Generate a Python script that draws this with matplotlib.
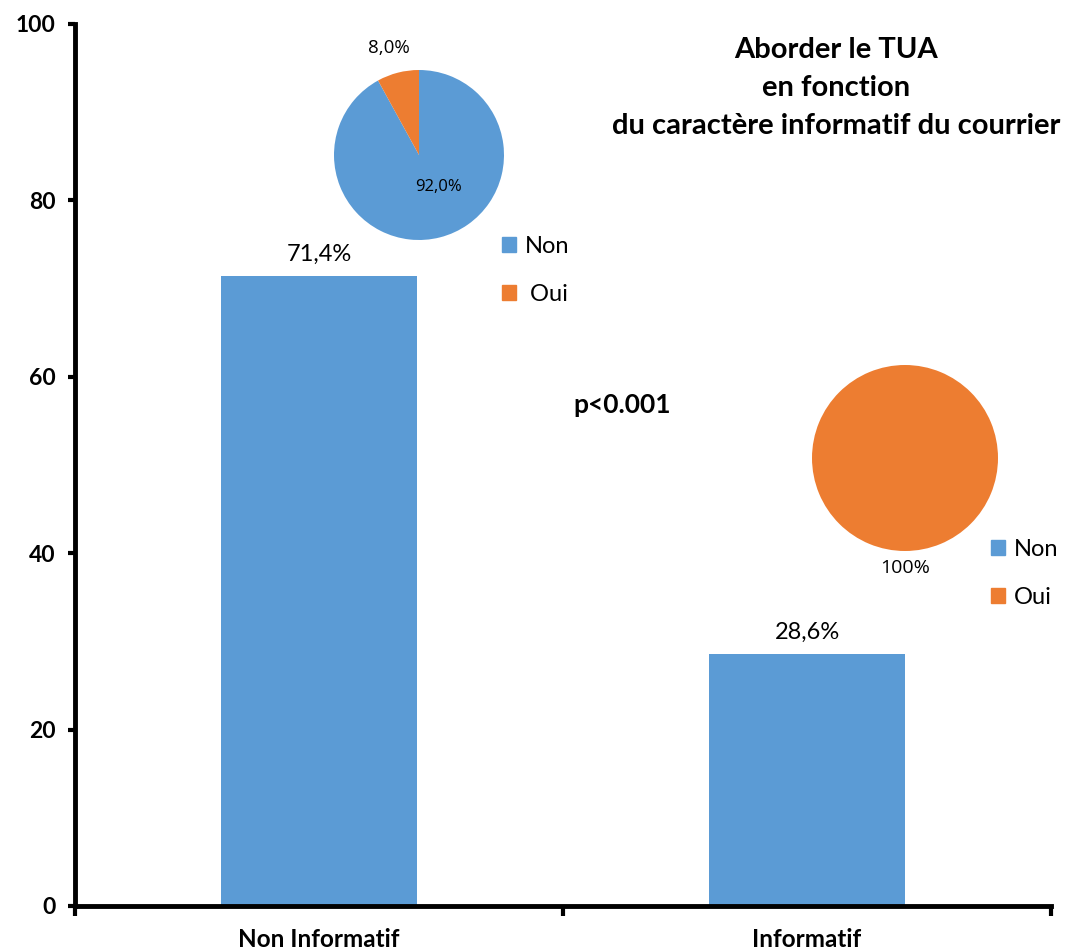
import numpy as np
import matplotlib
matplotlib.use('Agg')
import matplotlib.pyplot as plt
from matplotlib.patches import Patch

plt.rcParams['font.family'] = ['Lato', 'DejaVu Sans']

# donnees
categories = ['Non Informatif', 'Informatif']
pourcentages = [71.4, 28.6]
pie_labels = ['Non', 'Oui']
pie_non_info = [92.0, 8.0]
pie_info = [0.0, 100.0]
titre = 'Aborder le TUA\nen fonction\ndu caractère informatif du courrier'
p_texte = 'p<0.001'

bleu = '#5B9BD5'
orange = '#ED7D31'

W, H = 1069, 951
fig = plt.figure(figsize=(W / 100, H / 100), dpi=100)

def fx(px):
    return px / W

def fy(py):
    return 1 - py / H

ax = fig.add_axes([fx(75), fy(906), fx(1051) - fx(75), fy(24) - fy(906)])
x = np.arange(len(categories))
bars = ax.bar(x, pourcentages, width=0.4, color=bleu, zorder=2)
ax.bar_label(bars, labels=[('%.1f%%' % v).replace('.', ',') for v in pourcentages],
             padding=8, fontsize=17)
ax.set_xlim(-0.5, 1.5)
ax.set_ylim(0, 100)
ax.set_yticks(np.arange(0, 101, 20))
ax.set_xticks([-0.5, 0.5, 1.5])
ax.set_xticklabels([])
ax.set_xticks(x, minor=True)
ax.set_xticklabels(categories, minor=True, fontsize=17.5, fontweight='bold')
ax.tick_params(axis='x', which='minor', length=0, pad=16)
ax.tick_params(axis='x', which='major', length=7, width=3, direction='out')
ax.tick_params(axis='y', length=5, width=3, pad=9, labelsize=16.5)
for lab in ax.get_yticklabels():
    lab.set_fontweight('bold')
for s in ['top', 'right']:
    ax.spines[s].set_visible(False)
for s in ['left', 'bottom']:
    ax.spines[s].set_linewidth(3.5)

# camembert 1
r1 = 85
pa = fig.add_axes([fx(419 - r1), fy(155 + r1), fx(2 * r1), 2 * r1 / H])
pa.pie(pie_non_info, colors=[bleu, orange], startangle=90, counterclock=False,
       radius=1)
pa.set_xlim(-1, 1)
pa.set_ylim(-1, 1)
pa.text(0.23, -0.38, ('%.1f%%' % pie_non_info[0]).replace('.', ','), ha='center', va='center', fontsize=12, family='Open Sans')
pa.text(-0.35, 1.26, ('%.1f%%' % pie_non_info[1]).replace('.', ','), ha='center', va='center', fontsize=13.5, family='Open Sans')

# camembert 2
r2 = 93
pb = fig.add_axes([fx(905 - r2), fy(458 + r2), fx(2 * r2), 2 * r2 / H])
pb.pie(pie_info, colors=[bleu, orange], startangle=90, counterclock=False, radius=1)
pb.set_xlim(-1, 1)
pb.set_ylim(-1, 1)
pb.text(0, -1.18, '%d%%' % pie_info[1], ha='center', va='center', fontsize=14, family='Open Sans')

handles = [Patch(color=bleu), Patch(color=orange)]
fig.legend(handles, [pie_labels[0], ' ' + pie_labels[1]], loc='upper left',
           bbox_to_anchor=(fx(502), fy(236)), frameon=False, fontsize=17,
           handlelength=0.6, handleheight=0.6, handletextpad=0.35,
           labelspacing=1.15, borderpad=0, borderaxespad=0)
fig.legend(handles, pie_labels, loc='upper left',
           bbox_to_anchor=(fx(991), fy(539)), frameon=False, fontsize=17,
           handlelength=0.6, handleheight=0.6, handletextpad=0.35,
           labelspacing=1.15, borderpad=0, borderaxespad=0)

fig.text(fx(836), fy(88), titre, ha='center', va='center', fontsize=21,
         fontweight='bold', linespacing=1.55)
fig.text(fx(622), fy(405), p_texte, ha='center', va='center', fontsize=19,
         fontweight='bold')

fig.savefig('out.png', dpi=100)
